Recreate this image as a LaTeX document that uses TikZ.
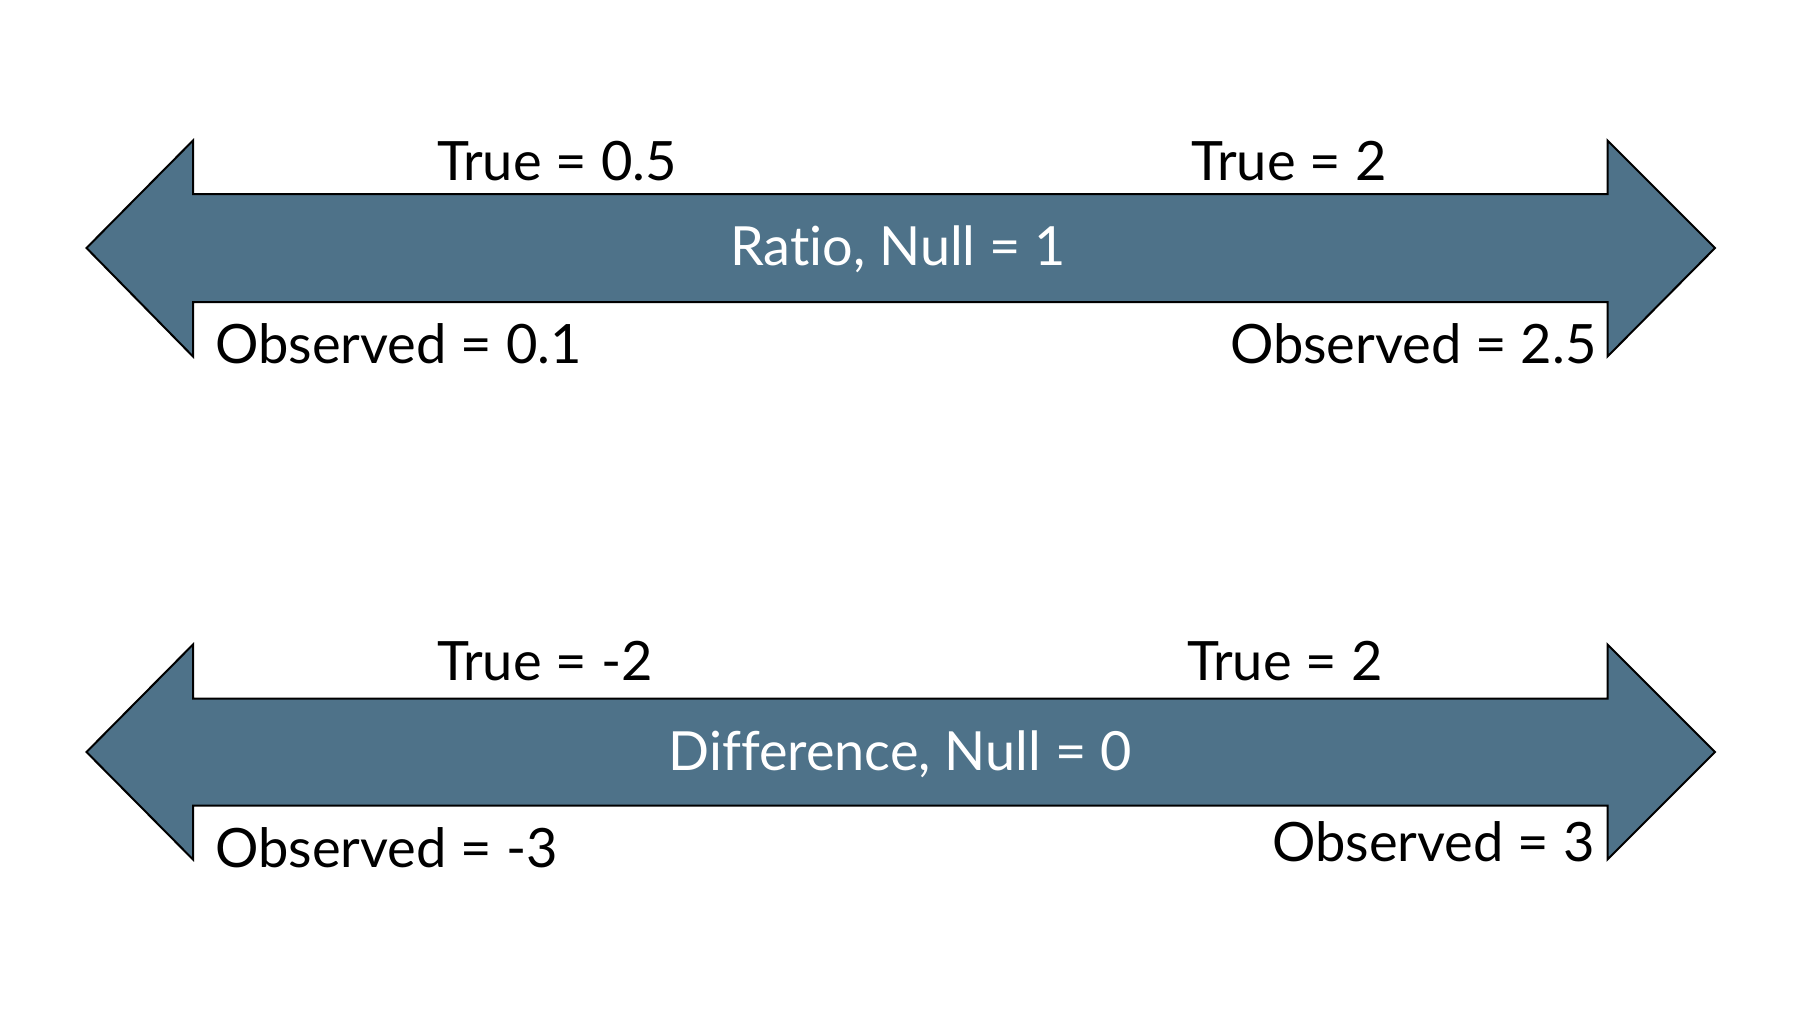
\documentclass[tikz,border=0pt]{standalone}
\usepackage{fontspec}
\setmainfont[Ligatures={NoCommon}]{Lato}
\definecolor{arrowblue}{HTML}{4E7289}
\begin{document}
\begin{tikzpicture}[x=0.4pt,y=-0.4pt,
  arrowshape/.style={fill=arrowblue,draw=black,line width=0.8pt,line join=miter},
  lbl/.style={inner sep=0pt,font=\fontsize{21.7pt}{24pt}\selectfont,text=black},
  midlbl/.style={inner sep=0pt,font=\fontsize{21.6pt}{25pt}\selectfont,text=white}]
\useasboundingbox (0,0) rectangle (1801,1013);
\fill[white] (0,0) rectangle (1801,1013);
% top double arrow
\draw[arrowshape] (86.5,248) -- (193,140.5) -- (193,194) -- (1607.5,194) -- (1607.5,140.5)
  -- (1715,248) -- (1607.5,356.5) -- (1607.5,302) -- (193,302) -- (193,356.5) -- cycle;
% bottom double arrow
\draw[arrowshape] (86.5,752) -- (193,644.5) -- (193,698.5) -- (1607.5,698.5) -- (1607.5,644.5)
  -- (1715,752) -- (1607.5,859.5) -- (1607.5,805.5) -- (193,805.5) -- (193,859.5) -- cycle;
% labels top
\node[midlbl,anchor=base] (ratio) at (898,265) {Ratio, Null = 1};
\node[lbl,anchor=base west] (t1) at (436.5,180) {True = 0.5};
\node[lbl,anchor=base west] (t2) at (1190.5,180) {True = 2};
\node[lbl,anchor=base west] (o1) at (215,363) {Observed = 0.1};
\node[lbl,anchor=base east] (o2) at (1597,363) {Observed = 2.5};
% labels bottom
\node[midlbl,anchor=base] (diff) at (900,770) {Difference, Null = 0};
\node[lbl,anchor=base west] (t3) at (436.5,680.5) {True = -2};
\node[lbl,anchor=base west] (t4) at (1186.5,680) {True = 2};
\node[lbl,anchor=base west] (o3) at (215,867) {Observed = -3};
\node[lbl,anchor=base east] (o4) at (1595,861) {Observed = 3};
\end{tikzpicture}
\end{document}
